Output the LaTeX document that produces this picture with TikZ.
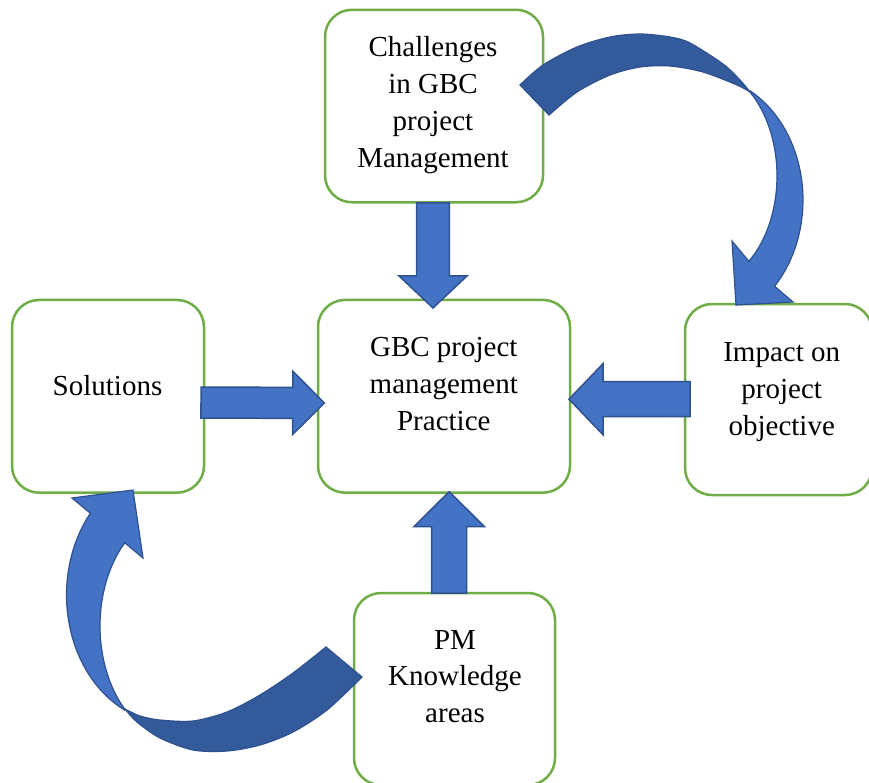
\documentclass[tikz,border=0pt]{standalone}
\usepackage{fontspec}
\setmainfont{Liberation Serif}
\usetikzlibrary{calc}

\definecolor{boxgreen}{HTML}{70AD47}
\definecolor{arrowfill}{HTML}{4472C4}
\definecolor{arrowedge}{HTML}{2F528F}
\definecolor{arrowback}{HTML}{335A9A}

% Straight block arrow: #1 start, #2 tip, #3 half shaft width,
% #4 half head width, #5 head length
\newcommand\blockarrow[5]{%
  \path (#1) coordinate (ba-s) (#2) coordinate (ba-t);
  \path ($(ba-t)!#5!(ba-s)$) coordinate (ba-h);
  \filldraw[blockarrow]
    ($(ba-s)!#3!90:(ba-t)$) -- ($(ba-h)!#3!90:(ba-t)$) -- ($(ba-h)!#4!90:(ba-t)$)
    -- (ba-t)
    -- ($(ba-h)!#4!-90:(ba-t)$) -- ($(ba-h)!#3!-90:(ba-t)$) -- ($(ba-s)!#3!-90:(ba-t)$)
    -- cycle;
}

\begin{document}
\begin{tikzpicture}[x=1pt,y=-1pt,
  box/.style={draw=boxgreen, line width=2.5pt, rounded corners=27pt,
    fill=white, rectangle, inner sep=0pt, outer sep=0pt},
  boxtext/.style={align=center, inner sep=0pt, outer sep=0pt,
    font=\fontsize{29}{36.7}\selectfont},
  blockarrow/.style={fill=arrowfill, draw=arrowedge, line width=1.5pt, line join=miter},
  ribbonback/.style={fill=arrowback, draw=arrowedge, line width=1.2pt, line join=miter},
  ribbonfront/.style={fill=arrowfill, draw=arrowedge, line width=1.2pt, line join=miter},
  edge/.style={smooth, tension=0.5},
  arcpath/.style={samples=40, variable=\t},
]
\useasboundingbox (0,0) rectangle (869,782);
\fill[white] (0,0) rectangle (869,782);

% boxes
\node[box, minimum width=218pt, minimum height=192.5pt] (chal) at (434,106) {};
\node[box, minimum width=252pt, minimum height=192.7pt] (prac) at (444,396.3) {};
\node[box, minimum width=192pt, minimum height=192.7pt] (sol)  at (108,396.3) {};
\node[box, minimum width=187pt, minimum height=191pt]   (imp)  at (778.5,399.5) {};
\node[box, minimum width=201pt, minimum height=192pt]   (pm)   at (454.5,689) {};

% box texts
\node[boxtext] (chal-t) at ($(chal.center)+(-1,-1.35)$)
  {\strut Challenges\\\strut in GBC\\\strut project\\\strut Management};
\node[boxtext] (prac-t) at ($(prac.center)+(-0.2,-10.3)$)
  {\strut GBC project\\\strut management\\\strut Practice};
\node[boxtext] (sol-t) at ($(sol.center)+(-0.5,-7.65)$) {\strut Solutions};
\node[boxtext] (imp-t) at ($(imp.center)+(3.2,-8.2)$)
  {\strut Impact on\\\strut project\\\strut objective};
\node[boxtext] (pm-t) at ($(pm.center)+(0.5,-10.5)$)
  {\strut PM\\\strut Knowledge\\\strut areas};

% straight arrows into the practice box
\coordinate (d-s) at ($(chal.south)+(-1,0.5)$);
\coordinate (d-t) at ($(prac.north)+(-11,8)$);
\blockarrow{d-s}{d-t}{16.3pt}{34pt}{32pt}

\coordinate (r-s) at ($(sol.east)+(-3,6.2)$);
\coordinate (r-t) at ($(prac.west)+(6.3,6.7)$);
\blockarrow{r-s}{r-t}{15.5pt}{31.7pt}{31.6pt}

\coordinate (l-s) at ($(imp.west)+(5,-0.3)$);
\coordinate (l-t) at ($(prac.east)+(-1,2.9)$);
\blockarrow{l-s}{l-t}{17.5pt}{35.5pt}{34pt}

\coordinate (u-s) at ($(pm.north)+(-5.3,0)$);
\coordinate (u-t) at ($(prac.south)+(5.2,-1)$);
\blockarrow{u-s}{u-t}{17.5pt}{35.3pt}{35pt}

% curved arrow: challenges -> impact (twisted ribbon, back then front)
\begin{scope}[shift={(chal.east)}]
  \filldraw[ribbonback]
    plot[edge] coordinates {(-23,-21) (0,-41) (34,-59) (67,-69) (97,-72) (127,-69)
                            (147,-63) (180,-42) (197,-26) (207,-14)}
    -- plot[edge] coordinates {(207,-14) (194,-21) (160,-34) (127,-40) (97,-39)
                               (67,-31) (34,-14) (6,9)}
    -- cycle;
  \filldraw[ribbonfront]
    plot[arcpath, domain=-60.7:43.6] ({157+103*cos(\t)}, {94+125*sin(\t)})
    -- (250,196) -- (193,199) -- (189,135) -- (204,153)
    -- plot[arcpath, domain=50.5:-49.5] ({157+77*cos(\t)}, {70+110.4*sin(\t)})
    -- cycle;
\end{scope}

% curved arrow: knowledge areas -> solutions (twisted ribbon, back then front)
\begin{scope}[shift={(pm.west)}]
  \filldraw[ribbonback]
    plot[edge] coordinates {(-28,-42) (-61,-16) (-94,6) (-127,23) (-161,32)
                            (-194,31) (-214,27) (-229,20)}
    -- plot[edge] coordinates {(-229,20) (-217,33) (-194,49) (-161,61) (-127,62)
                               (-94,56) (-61,43) (-27,21) (8,-12)}
    -- cycle;
  \filldraw[ribbonfront]
    plot[arcpath, domain=116:219.7] ({-184+103.5*cos(\t)}, {-94+128*sin(\t)})
    -- (-282,-191) -- (-221,-199) -- (-211,-131) -- (-229,-146)
    -- plot[arcpath, domain=226.4:133.6] ({-174+80*cos(\t)}, {-63+115*sin(\t)})
    -- cycle;
\end{scope}
\end{tikzpicture}
\end{document}
